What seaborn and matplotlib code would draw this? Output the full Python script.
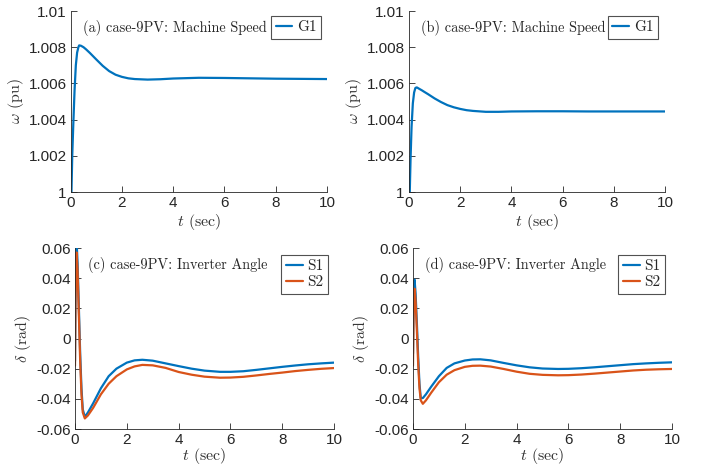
import numpy as np
import matplotlib
matplotlib.use("Agg")
import matplotlib.pyplot as plt
import seaborn as sns

# -------------------------------
# Data
# -------------------------------
t_speed = [0, 0.03, 0.06, 0.1, 0.15, 0.2, 0.25, 0.3, 0.33, 0.4, 0.5, 0.6, 0.75, 1.0, 1.25,
           1.5, 1.75, 2.0, 2.25, 2.5, 3.0, 3.5, 4.0, 5.0, 6.0, 7.0, 8.0, 9.0, 10.0]
g1_a = [1.0, 1.0, 1.002, 1.0037, 1.0056, 1.0070, 1.0077, 1.0080, 1.0081, 1.00808, 1.00800,
        1.00788, 1.00768, 1.00732, 1.00697, 1.00668, 1.00648, 1.00636, 1.00628, 1.00624,
        1.00621, 1.00623, 1.00627, 1.00631, 1.0063, 1.00628, 1.00626, 1.00625, 1.00624]
g1_b = [1.0, 1.0, 1.0018, 1.0036, 1.0049, 1.0055, 1.00575, 1.00578, 1.00576, 1.00570, 1.00562,
        1.00553, 1.00540, 1.00517, 1.00497, 1.00480, 1.00468, 1.00459, 1.00452, 1.00448,
        1.00443, 1.00443, 1.00445, 1.00446, 1.00446, 1.00445, 1.00445, 1.00445, 1.00445]

t_angle = [0, 0.02, 0.06, 0.1, 0.15, 0.2, 0.25, 0.3, 0.38, 0.5, 0.7, 1.0, 1.3, 1.6, 2.0,
           2.3, 2.6, 3.0, 3.5, 4.0, 4.5, 5.0, 5.6, 6.0, 6.5, 7.0, 7.5, 8.0, 8.5, 9.0, 9.5, 10.0]
s1_c = [-0.015, 0.03, 0.065, 0.05, 0.02, -0.01, -0.033, -0.047, -0.052, -0.049, -0.043,
        -0.033, -0.025, -0.0200, -0.0160, -0.0145, -0.0141, -0.0147, -0.0165, -0.0183,
        -0.0200, -0.0213, -0.0221, -0.0221, -0.0217, -0.0208, -0.0198, -0.0188, -0.0179,
        -0.0171, -0.0165, -0.0160]
s2_c = [-0.018, 0.025, 0.057, 0.045, 0.015, -0.015, -0.037, -0.049, -0.053, -0.051, -0.046,
        -0.037, -0.030, -0.0250, -0.0205, -0.0185, -0.0175, -0.0178, -0.0195, -0.0222,
        -0.0240, -0.0253, -0.0260, -0.0259, -0.0254, -0.0245, -0.0235, -0.0226, -0.0216,
        -0.0208, -0.0201, -0.0196]
s1_d = [-0.01, 0.02, 0.039, 0.03, 0.01, -0.012, -0.03, -0.0395, -0.0395, -0.037, -0.032,
        -0.025, -0.0195, -0.0165, -0.0146, -0.0139, -0.0138, -0.0145, -0.0162, -0.0178,
        -0.0191, -0.0199, -0.0202, -0.0201, -0.0197, -0.0191, -0.0184, -0.0177, -0.0170,
        -0.0165, -0.0161, -0.0158]
s2_d = [-0.018, 0.012, 0.033, 0.025, 0.005, -0.017, -0.033, -0.041, -0.0433, -0.041, -0.036,
        -0.029, -0.024, -0.021, -0.0188, -0.0181, -0.0180, -0.0186, -0.0202, -0.0220,
        -0.0234, -0.0241, -0.0244, -0.0243, -0.0239, -0.0233, -0.0226, -0.0219, -0.0212,
        -0.0207, -0.0204, -0.0202]

x_ticks = [0, 2, 4, 6, 8, 10]
speed_ticks = [1.0, 1.002, 1.004, 1.006, 1.008, 1.01]
speed_labels = ["1", "1.002", "1.004", "1.006", "1.008", "1.01"]
angle_ticks = [-0.06, -0.04, -0.02, 0, 0.02, 0.04, 0.06]
angle_labels = ["-0.06", "-0.04", "-0.02", "0", "0.02", "0.04", "0.06"]

titles = ["(a) case-9PV: Machine Speed", "(b) case-9PV: Machine Speed",
          "(c) case-9PV: Inverter Angle", "(d) case-9PV: Inverter Angle"]

BLUE = "#0072BD"
ORANGE = "#D95319"

# -------------------------------
# Style
# -------------------------------
sns.set_style("ticks")
plt.rcParams["font.family"] = ["Liberation Sans", "DejaVu Sans"]
plt.rcParams["mathtext.fontset"] = "cm"
plt.rcParams["xtick.direction"] = "in"
plt.rcParams["ytick.direction"] = "in"
SERIF = ["cmr10", "DejaVu Serif"]

fig = plt.figure(figsize=(7.02, 4.65), dpi=100)

W, H = 702, 465
def px_axes(x0, x1, y0, y1):
    return fig.add_axes([x0 / W, (H - y1) / H, (x1 - x0) / W, (y1 - y0) / H])

ax_a = px_axes(70.7, 327, 11, 192)
ax_b = px_axes(409, 665, 11, 192)
ax_c = px_axes(75, 334, 248, 429)
ax_d = px_axes(413, 672, 248, 429)

sns.lineplot(x=t_speed, y=g1_a, ax=ax_a, color=BLUE, lw=1.6, label="G1")
sns.lineplot(x=t_speed, y=g1_b, ax=ax_b, color=BLUE, lw=1.6, label="G1")
sns.lineplot(x=t_angle, y=s1_c, ax=ax_c, color=BLUE, lw=1.6, label="S1")
sns.lineplot(x=t_angle, y=s2_c, ax=ax_c, color=ORANGE, lw=1.6, label="S2")
sns.lineplot(x=t_angle, y=s1_d, ax=ax_d, color=BLUE, lw=1.6, label="S1")
sns.lineplot(x=t_angle, y=s2_d, ax=ax_d, color=ORANGE, lw=1.6, label="S2")

legend_anchor = [(0.977, 0.972), (0.973, 0.972), (0.977, 0.961), (0.973, 0.961)]
text_x = [0.048, 0.047, 0.05, 0.046]

for i, ax in enumerate([ax_a, ax_b, ax_c, ax_d]):
    top = i < 2
    ax.set_xlim(0, 10)
    ax.set_xticks(x_ticks)
    ax.set_xticklabels([str(v) for v in x_ticks])
    if top:
        ax.set_ylim(1.0, 1.01)
        ax.set_yticks(speed_ticks)
        ax.set_yticklabels(speed_labels)
        ax.set_ylabel(r"$\omega$ (pu)", family=SERIF, fontsize=11.5, color="#333333",
                      labelpad=2)
    else:
        ax.set_ylim(-0.06, 0.06)
        ax.set_yticks(angle_ticks)
        ax.set_yticklabels(angle_labels)
        ax.set_ylabel(r"$\delta$ (rad)", family=SERIF, fontsize=11.5, color="#333333",
                      labelpad=2)
    ax.set_xlabel(r"$t$ (sec)", family=SERIF, fontsize=11.5, color="#333333",
                  labelpad=1 if top else -0.5)
    ax.tick_params(labelsize=11, colors="#262626", length=4, width=0.6, pad=3)
    for sp in ["top", "right"]:
        ax.spines[sp].set_visible(False)
    for sp in ["left", "bottom"]:
        ax.spines[sp].set_color("#262626")
        ax.spines[sp].set_linewidth(0.6)

    ax.text(text_x[i], 0.906, titles[i], transform=ax.transAxes, family=SERIF,
            fontsize=10.3, va="center", ha="left")
    leg = ax.legend(loc="upper right", bbox_to_anchor=legend_anchor[i], borderaxespad=0,
                    fancybox=False, frameon=True, prop={"family": SERIF, "size": 11},
                    handlelength=1.1, handletextpad=0.3, borderpad=0.3, labelspacing=0.15)
    leg.get_frame().set_edgecolor("#262626")
    leg.get_frame().set_linewidth(0.8)

fig.savefig("out.png", dpi=100)
